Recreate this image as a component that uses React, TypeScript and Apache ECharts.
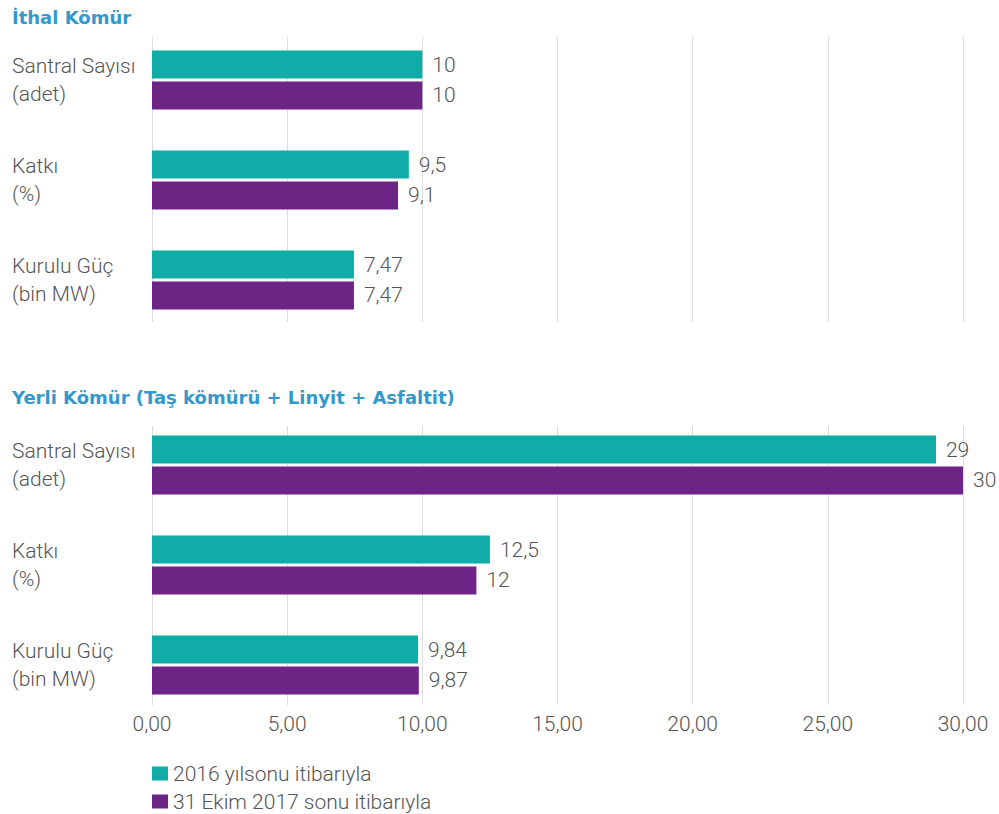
import React, { useEffect, useRef } from "react";
import * as echarts from "echarts";

const categories = ["Santral Sayısı\n(adet)", "Katkı\n(%)", "Kurulu Güç\n(bin MW)"];
const seriesNames = ["2016 yılsonu itibarıyla", "31 Ekim 2017 sonu itibarıyla"];
const ithal2016 = [10, 9.5, 7.47];
const ithal2017 = [10, 9.1, 7.47];
const yerli2016 = [29, 12.5, 9.84];
const yerli2017 = [30, 12, 9.87];
const titles = ["İthal Kömür", "Yerli Kömür (Taş kömürü + Linyit + Asfaltit)"];
const xTicks = { min: 0, max: 30, interval: 5 };

const TEAL = "#10aca7";
const PURPLE = "#6d2585";
const TEXT = "#555555";
const TITLE = "#3399cc";
const FONT = "Roboto, 'Noto Sans', sans-serif";
const TITLE_FONT = "'DejaVu Sans', sans-serif";

const fmt = (v: number) => String(v).replace(".", ",");

export default function App() {
  const ref = useRef<HTMLDivElement>(null);
  useEffect(() => {
    if (!ref.current) return;
    const chart = echarts.init(ref.current, undefined, { renderer: "svg" });
    const barGrids = [
      { left: 152, width: 811, top: 30, height: 300 },
      { left: 152, width: 811, top: 415, height: 300 },
    ];
    const lineGrids = [
      { left: 152, width: 811, top: 37, height: 285 },
      { left: 152, width: 811, top: 426, height: 279 },
    ];
    const barSeries = (name: string, data: number[], color: string, idx: number) => ({
      type: "bar",
      name,
      data,
      xAxisIndex: idx,
      yAxisIndex: idx,
      barWidth: 28,
      barGap: "10%",
      itemStyle: { color },
      label: {
        show: true,
        position: "right",
        distance: 10,
        color: TEXT,
        fontFamily: FONT,
        fontWeight: 300,
        fontSize: 21,
        formatter: (p: any) => fmt(p.value),
      },
    });
    const legendText = { color: TEXT, fontSize: 21, fontWeight: 300, fontFamily: FONT, lineHeight: 21 };
    const yLabel = {
      align: "left", margin: 140, color: TEXT, fontSize: 21, fontWeight: 300, fontFamily: FONT, lineHeight: 28,
    };
    const option: any = {
      animation: false,
      textStyle: { fontFamily: FONT },
      title: [
        { text: titles[0], left: 7, top: 3, textStyle: { fontSize: 18, fontWeight: "bold", color: TITLE, fontFamily: TITLE_FONT } },
        { text: titles[1], left: 7, top: 383, textStyle: { fontSize: 18, fontWeight: "bold", color: TITLE, fontFamily: TITLE_FONT } },
      ],
      legend: [
        {
          left: 152, top: 763, padding: 0, icon: "rect", itemWidth: 16, itemHeight: 14, itemGap: 10,
          textStyle: legendText, data: [seriesNames[0]],
        },
        {
          left: 152, top: 791, padding: 0, icon: "rect", itemWidth: 16, itemHeight: 14, itemGap: 10,
          textStyle: legendText, data: [seriesNames[1]],
        },
      ],
      grid: [...barGrids, ...lineGrids],
      xAxis: [
        { gridIndex: 0, type: "value", ...xTicks, show: false },
        { gridIndex: 1, type: "value", ...xTicks, show: false },
        {
          gridIndex: 2, type: "value", ...xTicks,
          axisLine: { show: false }, axisTick: { show: false }, axisLabel: { show: false },
          splitLine: { show: true, lineStyle: { color: "#dcdcdc", width: 1 } },
        },
        {
          gridIndex: 3, type: "value", ...xTicks,
          axisLine: { show: false }, axisTick: { show: false },
          axisLabel: {
            show: true, color: TEXT, fontSize: 21, fontWeight: 300, fontFamily: FONT, margin: 8,
            formatter: (v: number) => v.toFixed(2).replace(".", ","),
          },
          splitLine: { show: true, lineStyle: { color: "#dcdcdc", width: 1 } },
        },
      ],
      yAxis: [
        {
          gridIndex: 0, type: "category", data: categories, inverse: true,
          axisLine: { show: false }, axisTick: { show: false }, axisLabel: yLabel,
        },
        {
          gridIndex: 1, type: "category", data: categories, inverse: true,
          axisLine: { show: false }, axisTick: { show: false }, axisLabel: yLabel,
        },
        { gridIndex: 2, type: "value", min: 0, max: 1, show: false },
        { gridIndex: 3, type: "value", min: 0, max: 1, show: false },
      ],
      series: [
        barSeries(seriesNames[0], ithal2016, TEAL, 0),
        barSeries(seriesNames[1], ithal2017, PURPLE, 0),
        barSeries(seriesNames[0], yerli2016, TEAL, 1),
        barSeries(seriesNames[1], yerli2017, PURPLE, 1),
      ],
    };
    chart.setOption(option);
    return () => chart.dispose();
  }, []);
  return (
    <div
      ref={ref}
      style={{ position: "fixed", left: 0, top: 0, width: 999, height: 814, background: "#fff" }}
    />
  );
}
